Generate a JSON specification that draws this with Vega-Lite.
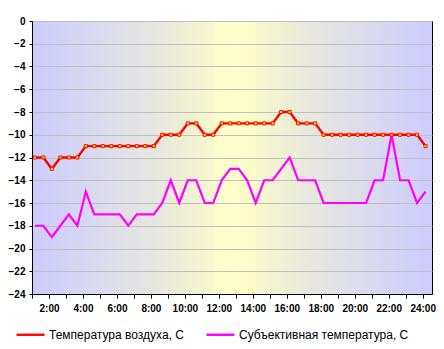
{
  "$schema": "https://vega.github.io/schema/vega-lite/v6.json",
  "autosize": "none",
  "padding": {"left": 32, "top": 21, "right": 12, "bottom": 55},
  "width": 400,
  "height": 273,
  "background": "white",
  "view": {
    "stroke": "black",
    "strokeWidth": 1,
    "fill": {
      "gradient": "linear",
      "x1": 0, "y1": 0, "x2": 1, "y2": 0,
      "stops": [
        {"offset": 0, "color": "#ccccff"},
        {"offset": 0.346, "color": "#eaeadc"},
        {"offset": 0.347, "color": "#ececd8"},
        {"offset": 0.452, "color": "#f8f8cf"},
        {"offset": 0.453, "color": "#fdfdca"},
        {"offset": 0.506, "color": "#ffffcc"},
        {"offset": 0.559, "color": "#fdfdca"},
        {"offset": 0.560, "color": "#f8f8cf"},
        {"offset": 0.665, "color": "#ececd8"},
        {"offset": 0.666, "color": "#eaeadc"},
        {"offset": 1, "color": "#ccccff"}
      ]
    }
  },
  "config": {
    "font": "Liberation Sans",
    "axis": {
      "labelFont": "Liberation Sans",
      "labelFontWeight": "bold",
      "labelFontSize": 10,
      "labelColor": "black",
      "domainColor": "black",
      "tickColor": "black",
      "title": null
    },
    "legend": {"labelFont": "Liberation Sans"}
  },
  "datasets": {
    "temps": [
      {"t": 1.17, "air": -12, "subj": -18},
      {"t": 1.67, "air": -12, "subj": -18},
      {"t": 2.17, "air": -13, "subj": -19},
      {"t": 2.67, "air": -12, "subj": -18},
      {"t": 3.17, "air": -12, "subj": -17},
      {"t": 3.67, "air": -12, "subj": -18},
      {"t": 4.17, "air": -11, "subj": -15},
      {"t": 4.67, "air": -11, "subj": -17},
      {"t": 5.17, "air": -11, "subj": -17},
      {"t": 5.67, "air": -11, "subj": -17},
      {"t": 6.17, "air": -11, "subj": -17},
      {"t": 6.67, "air": -11, "subj": -18},
      {"t": 7.17, "air": -11, "subj": -17},
      {"t": 7.67, "air": -11, "subj": -17},
      {"t": 8.17, "air": -11, "subj": -17},
      {"t": 8.67, "air": -10, "subj": -16},
      {"t": 9.17, "air": -10, "subj": -14},
      {"t": 9.67, "air": -10, "subj": -16},
      {"t": 10.17, "air": -9, "subj": -14},
      {"t": 10.67, "air": -9, "subj": -14},
      {"t": 11.17, "air": -10, "subj": -16},
      {"t": 11.67, "air": -10, "subj": -16},
      {"t": 12.17, "air": -9, "subj": -14},
      {"t": 12.67, "air": -9, "subj": -13},
      {"t": 13.17, "air": -9, "subj": -13},
      {"t": 13.67, "air": -9, "subj": -14},
      {"t": 14.17, "air": -9, "subj": -16},
      {"t": 14.67, "air": -9, "subj": -14},
      {"t": 15.17, "air": -9, "subj": -14},
      {"t": 15.67, "air": -8, "subj": -13},
      {"t": 16.17, "air": -8, "subj": -12},
      {"t": 16.67, "air": -9, "subj": -14},
      {"t": 17.17, "air": -9, "subj": -14},
      {"t": 17.67, "air": -9, "subj": -14},
      {"t": 18.17, "air": -10, "subj": -16},
      {"t": 18.67, "air": -10, "subj": -16},
      {"t": 19.17, "air": -10, "subj": -16},
      {"t": 19.67, "air": -10, "subj": -16},
      {"t": 20.17, "air": -10, "subj": -16},
      {"t": 20.67, "air": -10, "subj": -16},
      {"t": 21.17, "air": -10, "subj": -14},
      {"t": 21.67, "air": -10, "subj": -14},
      {"t": 22.17, "air": -10, "subj": -10},
      {"t": 22.67, "air": -10, "subj": -14},
      {"t": 23.17, "air": -10, "subj": -14},
      {"t": 23.67, "air": -10, "subj": -16},
      {"t": 24.17, "air": -11, "subj": -15}
    ],
    "marks": [
      {"t": 9.17},
      {"t": 11.67},
      {"t": 14.17},
      {"t": 16.67}
    ]
  },
  "layer": [
    {
      "data": {"name": "marks"},
      "mark": {"type": "rule", "color": "#d2d2f6", "strokeWidth": 2.5},
      "encoding": {
        "x": {"field": "t", "type": "quantitative", "scale": {"domain": [1, 24.55], "nice": false, "zero": false}}
      }
    },
    {
      "data": {"name": "temps"},
      "transform": [{"fold": ["subj"], "as": ["s", "v"]}],
      "mark": {"type": "line", "strokeWidth": 2.2},
      "encoding": {
        "x": {"field": "t", "type": "quantitative"},
        "y": {"field": "v", "type": "quantitative"},
        "color": {"field": "s", "type": "nominal"}
      }
    },
    {
      "data": {"name": "temps"},
      "transform": [{"fold": ["air"], "as": ["s", "v"]}],
      "mark": {"type": "line", "strokeWidth": 2.4},
      "encoding": {
        "x": {"field": "t", "type": "quantitative"},
        "y": {"field": "v", "type": "quantitative"},
        "color": {"field": "s", "type": "nominal"}
      }
    },
    {
      "data": {"name": "temps"},
      "transform": [{"fold": ["air"], "as": ["s", "v"]}],
      "mark": {"type": "point", "shape": "square", "filled": false, "fill": "#ffff00", "fillOpacity": 1, "stroke": "#ff0000", "strokeWidth": 1, "size": 9, "opacity": 1},
      "encoding": {
        "x": {"field": "t", "type": "quantitative"},
        "y": {"field": "v", "type": "quantitative"}
      }
    }
  ],
  "resolve": {"scale": {"x": "shared", "y": "shared"}},
  "encoding": {
    "x": {
      "field": "t", "type": "quantitative",
      "scale": {"domain": [1, 24.55], "nice": false, "zero": false},
      "axis": {
        "values": [1,2,3,4,5,6,7,8,9,10,11,12,13,14,15,16,17,18,19,20,21,22,23,24],
        "labelExpr": "datum.value % 2 == 0 ? datum.value + ':00' : ''",
        "grid": false,
        "tickSize": 4,
        "labelPadding": 5,
        "labelFlush": false,
        "labelOverlap": false
      }
    },
    "y": {
      "field": "v", "type": "quantitative",
      "scale": {"domain": [-24, 0], "nice": false},
      "axis": {
        "values": [-24,-22,-20,-18,-16,-14,-12,-10,-8,-6,-4,-2,0],
        "grid": true,
        "gridColor": "#c0c0c0",
        "gridOpacity": 1,
        "tickSize": 3,
        "labelPadding": 4,
        "labelFlush": false,
        "labelOverlap": false
      }
    },
    "color": {
      "field": "s", "type": "nominal",
      "scale": {"domain": ["air", "subj"], "range": ["#ff0000", "#ff00ff"]},
      "legend": {
        "title": null,
        "orient": "none",
        "direction": "horizontal",
        "legendX": -17,
        "legendY": 298,
        "padding": 0,
        "symbolType": "stroke",
        "symbolStrokeWidth": 2.4,
        "symbolSize": 784,
        "labelFontSize": 12,
        "labelLimit": 0,
        "labelColor": "black",
        "labelOffset": 3,
        "columnPadding": 17,
        "labelExpr": "datum.value == 'air' ? 'Температура воздуха, С' : 'Субъективная температура, С'"
      }
    }
  }
}
